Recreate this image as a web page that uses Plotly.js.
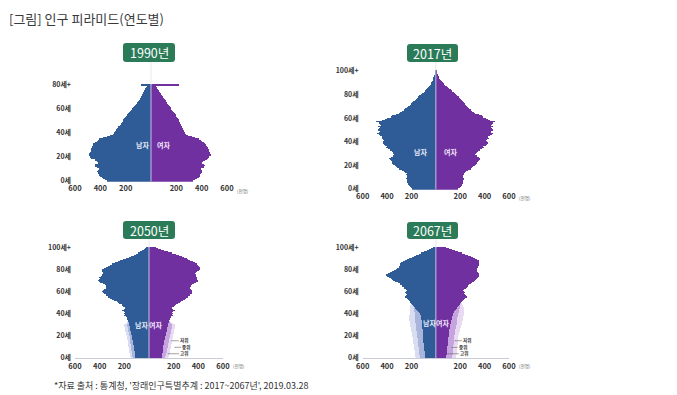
<!DOCTYPE html>
<html><head><meta charset="utf-8">
<script src="https://cdn.plot.ly/plotly-3.0.1.min.js"></script>
<style>html,body{margin:0;padding:0;background:#fff}#chart{width:677px;height:395px}</style>
</head><body><div id="chart"></div>
<script>
// ---------------- DATA (천명, 단일연령) ----------------
const years = ['1990년','2017년','2050년','2067년'];
const ageTicks1990 = ['0세','20세','40세','60세','80세+'];
const ageTicksLater = ['0세','20세','40세','60세','80세','100세+'];
const xTickText = ['600','400','200','200','400','600'];
const scenarioLabels = ['저위','중위','고위'];
const sexLabels = ['남자','여자'];

const male1990 = [350,365,380,390,400,410,415,420,425,420,410,430,440,445,440,420,430,445,440,470,485,490,492,488,480,475,472,470,468,465,460,455,445,430,420,410,380,345,320,300,290,285,280,275,270,262,245,240,235,230,225,220,215,205,195,190,180,172,165,160,150,142,132,125,115,108,102,96,90,85,80,75,70,64,60,55,50,45,40,35,80];
const female1990 = [335,350,365,375,385,390,395,400,405,400,395,415,420,425,415,400,410,425,440,450,460,470,472,468,462,460,455,450,448,440,432,425,415,405,392,375,350,320,295,275,268,262,258,255,250,245,240,236,232,228,222,218,212,206,200,195,188,182,175,168,160,155,148,142,135,130,122,115,108,102,96,90,82,76,70,63,58,50,44,38,222];

const male2017 = [195,205,215,222,228,232,236,236,240,242,238,235,245,240,252,258,275,300,315,325,335,350,358,360,368,380,388,372,355,345,348,355,360,378,392,405,400,420,428,436,432,425,430,442,438,458,468,482,465,462,472,465,460,475,450,458,465,490,440,415,400,365,360,330,300,290,275,262,250,238,228,215,205,195,185,175,165,155,145,135,122,112,100,90,80,72,63,56,48,42,36,31,27,23,20,17,14,11,9,7,6];
const female2017 = [185,195,205,212,218,222,226,225,228,230,226,224,233,228,240,245,262,285,298,308,318,332,340,343,350,360,366,352,335,325,328,338,345,365,380,392,390,410,416,425,420,415,420,432,430,448,458,472,456,454,465,460,455,470,450,458,465,488,445,425,412,385,378,352,325,312,298,285,275,265,255,245,238,230,222,212,203,195,186,176,165,155,145,133,122,110,98,88,78,68,58,50,42,35,29,24,19,15,12,9,8];

// 2050: 저위(진한 막대), 중위·고위(연한 띠, 0~33세)
const male2050 = [110,112,114,115,116,117,118,119,120,121,122,124,126,128,130,132,134,136,138,140,141,143,145,148,150,152,154,156,158,160,160,162,165,168,172,180,182,185,200,198,205,195,202,215,200,195,210,218,222,245,250,262,280,300,315,330,345,350,365,372,380,375,362,352,350,352,360,375,395,405,410,405,398,402,390,385,372,370,378,385,380,368,352,335,318,300,278,255,232,210,190,165,145,125,105,88,70,55,42,30,22];
const female2050 = [105,106,107,108,109,110,111,112,113,114,115,117,119,121,123,125,127,129,131,133,135,137,139,141,143,145,147,149,151,153,155,157,160,163,165,172,176,178,192,190,198,188,195,208,195,190,205,212,215,238,250,262,272,288,300,318,330,335,345,350,352,348,340,333,332,338,348,365,385,395,398,392,388,392,382,378,375,378,392,405,415,415,410,405,400,390,375,355,335,320,305,285,265,240,215,185,155,125,95,70,55];
const male2050Mid = [132,134,136,137,139,140,142,143,145,146,148,149,150,151,152,153,154,155,157,158,160,162,164,166,168,170,172,174,176,178,178,172,171,170];
const male2050High = [150,152,154,156,158,160,161,163,165,166,168,169,170,172,173,174,176,177,179,180,182,184,186,189,191,193,195,197,199,200,200,190,182,175];
const female2050Mid = [130,133,136,138,140,142,144,146,148,150,152,154,156,158,160,162,164,166,168,170,172,174,176,178,180,182,184,186,188,188,186,178,172,168];
const female2050High = [158,160,163,165,167,169,171,173,175,176,178,180,182,184,186,188,190,192,193,195,196,198,200,202,204,206,208,210,212,212,208,195,182,170];

// 2067: 저위(진한 막대), 중위·고위(연한 띠, 0~49세)
const male2067 = [88,89,90,91,92,93,94,95,96,97,98,99,100,101,102,103,104,105,105,106,107,107,108,108,109,109,110,110,110,111,111,112,113,114,116,118,120,122,125,128,132,138,145,152,160,168,176,184,192,200,208,212,222,230,240,255,248,240,242,250,245,238,245,262,265,280,292,295,312,332,352,362,372,385,398,405,395,378,360,340,325,318,305,300,298,292,282,270,255,238,218,198,178,160,140,118,95,75,55,38,25];
const female2067 = [85,86,87,88,89,90,91,92,93,94,95,96,97,98,99,100,101,102,103,104,105,106,107,108,109,110,112,114,116,118,120,122,124,126,128,130,132,134,137,140,143,147,152,157,163,170,178,186,194,202,210,215,222,230,240,252,245,235,232,238,228,222,232,248,255,265,275,285,298,310,322,330,338,345,352,355,350,345,340,338,336,338,342,348,352,355,356,355,350,340,325,305,285,262,240,215,185,158,130,105,80];
const male2067Mid = [130,132,134,136,137,138,139,140,141,142,143,144,145,146,147,148,149,150,152,153,154,155,156,157,158,159,160,161,162,163,165,166,167,168,169,170,171,172,172,173,173,174,176,178,180,182,186,190,195,200];
const male2067High = [165,167,169,171,172,173,175,176,178,179,180,181,183,184,186,187,188,190,191,192,193,195,197,199,201,203,205,207,209,211,213,214,215,216,217,218,218,218,217,216,215,214,213,212,211,210,209,208,206,204];
const female2067Mid = [132,134,136,137,138,138,139,140,141,142,143,144,145,146,147,148,149,150,150,151,151,153,155,157,159,161,163,165,167,169,171,172,173,174,175,176,177,178,180,182,184,186,188,190,192,194,196,198,200,205];
const female2067High = [165,167,169,170,171,171,172,173,174,175,176,177,178,179,180,181,182,182,183,184,184,187,190,193,196,199,202,205,208,210,212,214,216,218,220,222,224,226,228,230,231,232,232,231,230,228,225,222,218,214];

// ---------------- STYLE / LAYOUT ----------------
const W = 677, H = 395;
const FONT = '"Noto Sans CJK KR","Noto Sans",sans-serif';
const MALE = '#2f5b97', FEMALE = '#7030a0';
const MALE_MID = '#aab5dc', MALE_HIGH = '#d8ddf1';
const FEM_MID = '#c6a4de', FEM_HIGH = '#e8daf3';
const BADGE = '#2b7b59';

const panels = [
  {n:'', year:years[0], x0:75, x1:227, y0:181, k:1.2, top:82, ticks:[0,20,40,60,80], tickText:ageTicks1990,
   male:male1990, female:female1990, badge:[123,43,175,62], line:false,
   labels:{m:[-65,30], f:[95,30]}, unit:[235,190.7]},
  {n:'2', year:years[1], x0:362.7, x1:509, y0:189, k:1.18, top:102, ticks:[0,20,40,60,80,100], tickText:ageTicksLater,
   male:male2017, female:female2017, badge:[407,44,458,62], line:false,
   labels:{m:[-124,31], f:[124,31]}, unit:[517,198]},
  {n:'3', year:years[2], x0:75, x1:223, y0:357.5, k:1.1, top:102, ticks:[0,20,40,60,80,100], tickText:ageTicksLater,
   male:male2050, female:female2050, mMid:male2050Mid, mHigh:male2050High, fMid:female2050Mid, fHigh:female2050High,
   badge:[123,221,175,239], line:true, labels:{m:[-60,30], f:[49,30]}, unit:[231,365.7],
   scen:[[185,15.2],[211,9.3],[154,3.4]]},
  {n:'4', year:years[3], x0:362.7, x1:509, y0:357.5, k:1.1, top:102, ticks:[0,20,40,60,80,100], tickText:ageTicksLater,
   male:male2067, female:female2067, mMid:male2067Mid, mHigh:male2067High, fMid:female2067Mid, fHigh:female2067High,
   badge:[407,222,458,239], line:true, labels:{m:[-50,31.5], f:[58,31.5]}, unit:[517,365.7],
   scen:[[157,15.2],[130,9.2],[99,3.4]]}
];

function bars(vals, sign, color, xa, ya){
  return {type:'bar', orientation:'h', x: vals.map(v => sign*v), y: vals.map((_, i) => i),
    width: 1, marker:{color:color, line:{width:0}}, xaxis:xa, yaxis:ya, hoverinfo:'skip'};
}
const px = x => x / W, py = y => 1 - y / H;
function roundRect(b, r){
  const [x0,y0,x1,y1] = b;
  const P = (x,y) => px(x)+','+py(y);
  return 'M'+P(x0+r,y0)+' L'+P(x1-r,y0)+' Q'+P(x1,y0)+' '+P(x1,y0+r)+
         ' L'+P(x1,y1-r)+' Q'+P(x1,y1)+' '+P(x1-r,y1)+
         ' L'+P(x0+r,y1)+' Q'+P(x0,y1)+' '+P(x0,y1-r)+
         ' L'+P(x0,y0+r)+' Q'+P(x0,y0)+' '+P(x0+r,y0)+' Z';
}

const traces = [], shapes = [], annotations = [];
const layout = {width:W, height:H, margin:{l:0,r:0,t:0,b:0}, paper_bgcolor:'#fff', plot_bgcolor:'rgba(0,0,0,0)',
  showlegend:false, barmode:'overlay', bargap:0, font:{family:FONT}};

panels.forEach(p => {
  const xa = 'x'+p.n, ya = 'y'+p.n;
  const xk = 'xaxis'+p.n, yk = 'yaxis'+p.n;
  const botPx = p.y0 + 0.6*p.k, topPx = p.y0 - p.top*p.k;
  layout[xk] = {domain:[px(p.x0), px(p.x1)], range:[-600,600], anchor:ya, fixedrange:true,
    tickvals:[-600,-400,-200,200,400,600], ticktext:xTickText, ticks:'', showgrid:false, zeroline:false,
    showline:p.line, linecolor:'#c9ccd6', linewidth:1, ticklabelstandoff:1,
    tickfont:{size:7.5, color:'#333', family:FONT, weight:'bold'}};
  layout[yk] = {domain:[py(botPx), py(topPx)], range:[-0.6, p.top], anchor:xa, fixedrange:true,
    tickvals:p.ticks, ticktext:p.tickText, ticks:'', showgrid:false, zeroline:false, showline:false,
    ticklabelstandoff:3, tickfont:{size:7, color:'#333', family:FONT, weight:'bold'}};
  if (p.mHigh){
    traces.push(bars(p.mHigh, -1, MALE_HIGH, xa, ya), bars(p.fHigh, 1, FEM_HIGH, xa, ya));
    traces.push(bars(p.mMid, -1, MALE_MID, xa, ya), bars(p.fMid, 1, FEM_MID, xa, ya));
  }
  traces.push(bars(p.male, -1, MALE, xa, ya), bars(p.female, 1, FEMALE, xa, ya));
  // center line
  shapes.push({type:'line', xref:xa, yref:ya, x0:0, x1:0, y0:-0.5, y1:p.male.length-0.5,
    line:{color:'#c4c0e4', width:1}});
  shapes.push({type:'line', xref:xa, yref:'paper', x0:0, x1:0, y0:py(p.badge[3]), y1:py(topPx+2),
    line:{color:'#e9e9e9', width:1}});
  // badge
  shapes.push({type:'path', xref:'paper', yref:'paper', path:roundRect(p.badge, 3),
    fillcolor:BADGE, line:{width:0}});
  annotations.push({xref:'paper', yref:'paper', x:px((p.badge[0]+p.badge[2])/2), y:py((p.badge[1]+p.badge[3])/2),
    text:p.year, showarrow:false, font:{size:12.5, color:'#fff', family:FONT}, xanchor:'center', yanchor:'middle'});
  // 남자 / 여자
  annotations.push({xref:xa, yref:ya, x:p.labels.m[0], y:p.labels.m[1], text:sexLabels[0], showarrow:false,
    font:{size:7, color:'#e6ebf8', family:FONT, weight:'bold'}});
  annotations.push({xref:xa, yref:ya, x:p.labels.f[0], y:p.labels.f[1], text:sexLabels[1], showarrow:false,
    font:{size:7, color:'#f3e6fb', family:FONT, weight:'bold'}});
  // unit
  annotations.push({xref:'paper', yref:'paper', x:px(p.unit[0]), y:py(p.unit[1]), text:'(천명)', showarrow:false,
    xanchor:'left', yanchor:'middle', font:{size:4.5, color:'#666', family:FONT}});
  if (p.scen){
    p.scen.forEach((s, i) => {
      annotations.push({xref:xa, yref:ya, x:s[0], y:s[1], text:scenarioLabels[i], showarrow:true,
        ax: [7,6,11][i], ay:0, xanchor:'left', arrowhead:6, arrowsize:0.35, arrowwidth:0.6, arrowcolor:'#666',
        borderpad:0, font:{size:4.5, color:'#333', family:FONT, weight:'bold'}});
    });
  }
});

annotations.push({xref:'paper', yref:'paper', x:px(7), y:py(18), xanchor:'left', yanchor:'middle',
  text:'[그림] 인구 피라미드(연도별)', showarrow:false, font:{size:13, color:'#3a3a3a', family:FONT}});
annotations.push({xref:'paper', yref:'paper', x:px(52), y:py(385), xanchor:'left', yanchor:'middle',
  text:'*자료 출처 : 통계청, \'장래인구특별추계 : 2017~2067년\', 2019.03.28', showarrow:false,
  font:{size:9, color:'#333', family:FONT}});

layout.shapes = shapes;
layout.annotations = annotations;
Plotly.newPlot('chart', traces, layout, {staticPlot:true, displayModeBar:false});
</script>
</body></html>
